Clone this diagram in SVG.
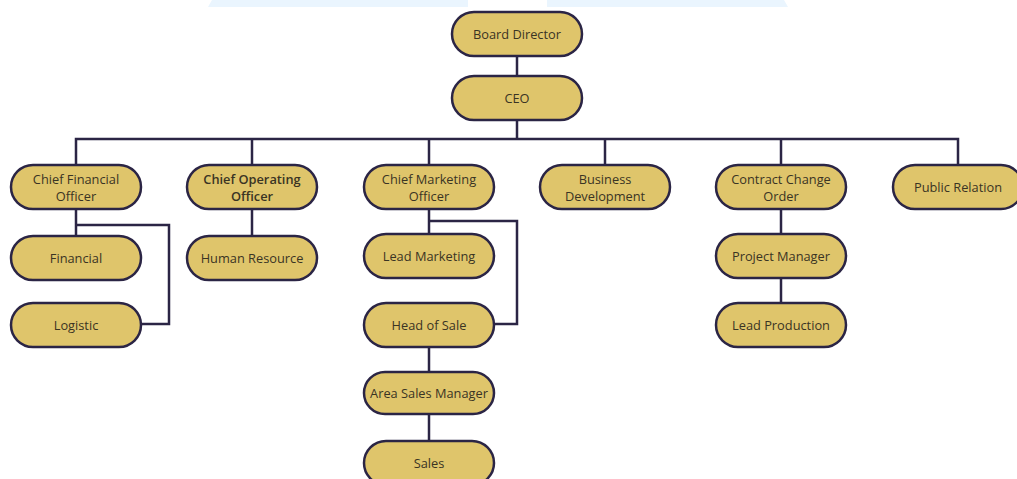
<svg xmlns="http://www.w3.org/2000/svg" width="1017" height="479" viewBox="0 0 1017 479">
<style>
.n rect{fill:#dfc56b;stroke:#2b2545;stroke-width:2.5}
.n text{font-family:"Open Sans","Liberation Sans",sans-serif;font-size:12.8px;fill:#3a3424;text-anchor:middle}
.c path{fill:none;stroke:#2b2545;stroke-width:2.5}
</style>
<rect width="1017" height="479" fill="#ffffff"/>
<polygon points="212,0 468,0 468,7 208,7" fill="#eaf5fe"/>
<polygon points="547,0 784,0 788,7 547,7" fill="#eaf5fe"/>
<g class="c" id="connectors">
<path d="M517 56V76"/>
<path d="M517 120V139"/>
<path d="M76 165V139H958V165"/>
<path d="M252 139V165"/>
<path d="M429 139V165"/>
<path d="M605 139V165"/>
<path d="M781 139V165"/>
<path d="M76 209V236"/>
<path d="M76 225H169V324H141"/>
<path d="M252 209V236"/>
<path d="M429 209V234"/>
<path d="M429 221H517V324H494"/>
<path d="M429 347V372"/>
<path d="M429 414V441"/>
<path d="M781 209V234"/>
<path d="M781 278V303"/>
</g>
<g class="n" id="board"><rect x="452" y="12" width="130" height="44" rx="22"/><text x="517" y="39">Board Director</text></g>
<g class="n" id="ceo"><rect x="452" y="76" width="130" height="44" rx="22"/><text x="517" y="103">CEO</text></g>
<g class="n" id="cfo"><rect x="11" y="165" width="130" height="44" rx="22"/><text x="76" y="184">Chief Financial</text><text x="76" y="201">Officer</text></g>
<g class="n" id="coo"><rect x="187" y="165" width="130" height="44" rx="22"/><text x="252" y="184" font-weight="600">Chief Operating</text><text x="252" y="201" font-weight="600">Officer</text></g>
<g class="n" id="cmo"><rect x="364" y="165" width="130" height="44" rx="22"/><text x="429" y="184">Chief Marketing</text><text x="429" y="201">Officer</text></g>
<g class="n" id="bizdev"><rect x="540" y="165" width="130" height="44" rx="22"/><text x="605" y="184">Business</text><text x="605" y="201">Development</text></g>
<g class="n" id="cco"><rect x="716" y="165" width="130" height="44" rx="22"/><text x="781" y="184">Contract Change</text><text x="781" y="201">Order</text></g>
<g class="n" id="pr"><rect x="893" y="165" width="130" height="44" rx="22"/><text x="958" y="192">Public Relation</text></g>
<g class="n" id="financial"><rect x="11" y="236" width="130" height="44" rx="22"/><text x="76" y="263">Financial</text></g>
<g class="n" id="logistic"><rect x="11" y="303" width="130" height="44" rx="22"/><text x="76" y="330">Logistic</text></g>
<g class="n" id="hr"><rect x="187" y="236" width="130" height="44" rx="22"/><text x="252" y="263">Human Resource</text></g>
<g class="n" id="leadmkt"><rect x="364" y="234" width="130" height="44" rx="22"/><text x="429" y="261">Lead Marketing</text></g>
<g class="n" id="headsale"><rect x="364" y="303" width="130" height="44" rx="22"/><text x="429" y="330">Head of Sale</text></g>
<g class="n" id="asm"><rect x="364" y="372" width="130" height="42" rx="21"/><text x="429" y="398">Area Sales Manager</text></g>
<g class="n" id="sales"><rect x="364" y="441" width="130" height="44" rx="22"/><text x="429" y="468">Sales</text></g>
<g class="n" id="pm"><rect x="716" y="234" width="130" height="44" rx="22"/><text x="781" y="261">Project Manager</text></g>
<g class="n" id="leadprod"><rect x="716" y="303" width="130" height="44" rx="22"/><text x="781" y="330">Lead Production</text></g>
</svg>
